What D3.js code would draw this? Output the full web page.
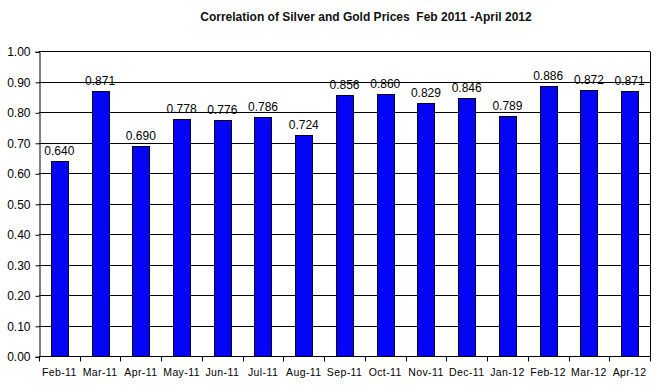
<!DOCTYPE html>
<html><head><meta charset="utf-8">
<script src="https://cdn.jsdelivr.net/npm/d3@7/dist/d3.min.js"></script>
<style>body{margin:0;background:#fff}svg{display:block}</style>
</head><body>
<svg id="c" width="669" height="388"></svg>
<script>
const categories = ["Feb-11","Mar-11","Apr-11","May-11","Jun-11","Jul-11","Aug-11","Sep-11","Oct-11","Nov-11","Dec-11","Jan-12","Feb-12","Mar-12","Apr-12"];
const values = [0.640,0.871,0.690,0.778,0.776,0.786,0.724,0.856,0.860,0.829,0.846,0.789,0.886,0.872,0.871];
const yTicks = [0,0.1,0.2,0.3,0.4,0.5,0.6,0.7,0.8,0.9,1.0];
const title = "Correlation of Silver and Gold Prices  Feb 2011 -April 2012";

const svg = d3.select("#c");
const L = 39, R = 650, T = 51.3, B = 356.3;
const x = d3.scaleBand().domain(categories).range([L, R]).paddingInner(0.58).paddingOuter(0.29);
const xb = d3.scaleBand().domain(categories).range([L, R]);
const y = d3.scaleLinear().domain([0, 1]).range([B, T]);

svg.append("text").attr("x", 366).attr("y", 21).attr("text-anchor", "middle")
  .style("white-space", "pre")
  .attr("font-family", "Liberation Sans, Arial").attr("font-weight", "bold")
  .attr("font-size", 12).attr("fill", "#111").text(title);

// gridlines
svg.append("g").selectAll("line").data(yTicks.slice(1)).join("line")
  .attr("x1", L).attr("x2", R).attr("y1", d => Math.round(y(d)) + 0.5).attr("y2", d => Math.round(y(d)) + 0.5)
  .attr("stroke", "#000").attr("stroke-width", 1);
// right border
svg.append("line").attr("x1", R + 0.5).attr("x2", R + 0.5).attr("y1", Math.round(T) + 0.5).attr("y2", Math.round(B) + 0.5).attr("stroke", "#000");

// bars
svg.append("g").selectAll("rect").data(values).join("rect")
  .attr("x", (d, i) => Math.round(x(categories[i])) + 0.5)
  .attr("y", d => Math.round(y(d)) + 0.5)
  .attr("width", Math.round(x.bandwidth()))
  .attr("height", d => Math.round(B) - Math.round(y(d)))
  .attr("fill", "#0505f5").attr("stroke", "#000020").attr("stroke-width", 1);

// value labels
svg.append("g").selectAll("text").data(values).join("text")
  .attr("x", (d, i) => x(categories[i]) + x.bandwidth() / 2)
  .attr("y", d => y(d) - 6)
  .attr("text-anchor", "middle").attr("font-family", "Liberation Sans, Arial").attr("font-size", 12)
  .attr("fill", "#000").text(d => d.toFixed(3));

// y axis
const ya = svg.append("g").attr("transform", `translate(${L + 0.5},0.5)`)
  .call(d3.axisLeft(y).tickValues(yTicks).tickFormat(d3.format(".2f")).tickSize(4).tickPadding(5));
ya.selectAll("text").attr("font-family", "Liberation Sans, Arial").attr("font-size", 12).attr("fill", "#000");
ya.select(".domain").attr("stroke", "#000");

// x axis
const xa = svg.append("g").attr("transform", `translate(0,${Math.round(B) + 0.5})`);
xa.append("line").attr("x1", L).attr("x2", R + 1).attr("stroke", "#000");
xa.selectAll("line.t").data(categories.concat(["end"])).join("line").attr("class", "t")
  .attr("x1", (d, i) => Math.round(L + i * xb.bandwidth()) + 0.5).attr("x2", (d, i) => Math.round(L + i * xb.bandwidth()) + 0.5)
  .attr("y1", 0).attr("y2", 5).attr("stroke", "#000");
xa.selectAll("text").data(categories).join("text")
  .attr("x", d => xb(d) + xb.bandwidth() / 2).attr("y", 19.5)
  .attr("text-anchor", "middle").attr("font-family", "Liberation Sans, Arial").attr("font-size", 10.5)
  .attr("letter-spacing", 0.4).attr("fill", "#000").text(d => d);
</script>
</body></html>
